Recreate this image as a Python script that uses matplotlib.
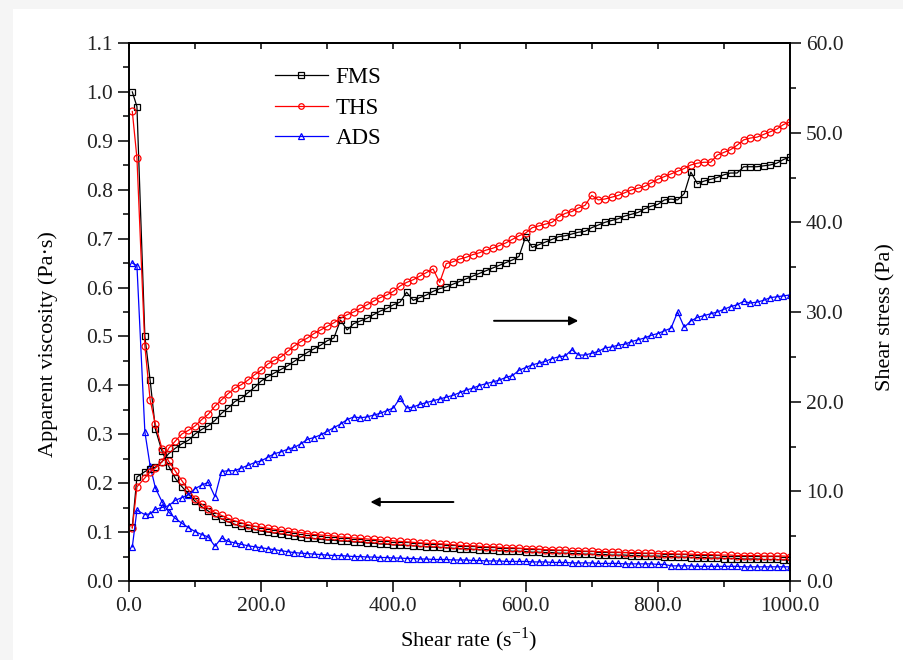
import matplotlib
matplotlib.use("Agg")
import matplotlib.pyplot as plt
from matplotlib.ticker import MultipleLocator, FormatStrFormatter
from matplotlib.patches import Rectangle

plt.rcParams['font.family'] = ['Liberation Serif', 'DejaVu Serif']
plt.rcParams['mathtext.fontset'] = 'custom'
plt.rcParams['mathtext.rm'] = 'Liberation Serif'

# ---------------- data ----------------
shear_rate = [5, 12, 24, 32, 40, 50, 60, 70, 80, 90, 100, 110, 120, 130, 140, 150, 160, 170, 180, 190,
              200, 210, 220, 230, 240, 250, 260, 270, 280, 290, 300, 310, 320, 330, 340, 350, 360, 370, 380, 390,
              400, 410, 420, 430, 440, 450, 460, 470, 480, 490, 500, 510, 520, 530, 540, 550, 560, 570, 580, 590,
              600, 610, 620, 630, 640, 650, 660, 670, 680, 690, 700, 710, 720, 730, 740, 750, 760, 770, 780, 790,
              800, 810, 820, 830, 840, 850, 860, 870, 880, 890, 900, 910, 920, 930, 940, 950, 960, 970, 980, 990,
              1000]

fms_visc = [1.00, 0.97, 0.50, 0.41, 0.31, 0.265, 0.235, 0.21, 0.193, 0.178, 0.163, 0.152, 0.143, 0.133, 0.127,
            0.121, 0.116, 0.112, 0.109, 0.106, 0.102, 0.100, 0.098, 0.096, 0.094, 0.092, 0.090, 0.088, 0.087,
            0.085, 0.084, 0.083, 0.082, 0.081, 0.080, 0.079, 0.078, 0.077, 0.076, 0.075, 0.074, 0.073, 0.073,
            0.072, 0.071, 0.070, 0.069, 0.069, 0.068, 0.067, 0.066, 0.066, 0.065, 0.064, 0.064, 0.063, 0.062,
            0.062, 0.061, 0.061, 0.060, 0.059, 0.059, 0.058, 0.058, 0.057, 0.057, 0.056, 0.056, 0.055, 0.055,
            0.054, 0.054, 0.053, 0.053, 0.053, 0.052, 0.052, 0.051, 0.051, 0.051, 0.050, 0.050, 0.049, 0.049,
            0.048, 0.048, 0.048, 0.047, 0.047, 0.046, 0.046, 0.046, 0.045, 0.045, 0.045, 0.044, 0.044, 0.044,
            0.043, 0.043]

ths_visc = [0.96, 0.865, 0.48, 0.37, 0.32, 0.27, 0.245, 0.225, 0.205, 0.186, 0.168, 0.157, 0.148, 0.140, 0.134,
            0.128, 0.123, 0.119, 0.115, 0.112, 0.110, 0.108, 0.106, 0.104, 0.102, 0.100, 0.099, 0.097, 0.095,
            0.094, 0.093, 0.092, 0.090, 0.089, 0.088, 0.087, 0.086, 0.085, 0.084, 0.083, 0.082, 0.081, 0.080,
            0.079, 0.078, 0.077, 0.077, 0.076, 0.075, 0.074, 0.073, 0.072, 0.072, 0.071, 0.070, 0.070, 0.069,
            0.068, 0.068, 0.067, 0.066, 0.066, 0.065, 0.064, 0.064, 0.063, 0.063, 0.062, 0.062, 0.061, 0.061,
            0.060, 0.060, 0.059, 0.059, 0.058, 0.058, 0.058, 0.057, 0.057, 0.056, 0.056, 0.056, 0.055, 0.055,
            0.055, 0.054, 0.054, 0.054, 0.053, 0.053, 0.053, 0.052, 0.052, 0.052, 0.052, 0.051, 0.051, 0.051,
            0.051, 0.050]

ads_visc = [0.65, 0.645, 0.305, 0.235, 0.19, 0.162, 0.141, 0.128, 0.118, 0.109, 0.101, 0.095, 0.090, 0.071, 0.088,
            0.081, 0.078, 0.075, 0.072, 0.070, 0.068, 0.066, 0.064, 0.062, 0.060, 0.058, 0.057, 0.056, 0.055,
            0.054, 0.053, 0.052, 0.052, 0.051, 0.050, 0.050, 0.049, 0.049, 0.048, 0.048, 0.047, 0.047, 0.046,
            0.046, 0.045, 0.045, 0.044, 0.044, 0.044, 0.043, 0.043, 0.043, 0.042, 0.042, 0.041, 0.041, 0.041,
            0.040, 0.040, 0.040, 0.040, 0.039, 0.039, 0.039, 0.038, 0.038, 0.038, 0.037, 0.037, 0.037, 0.037,
            0.036, 0.036, 0.036, 0.036, 0.035, 0.035, 0.035, 0.035, 0.035, 0.034, 0.034, 0.031, 0.031, 0.031,
            0.031, 0.030, 0.030, 0.030, 0.030, 0.030, 0.030, 0.030, 0.029, 0.029, 0.029, 0.029, 0.029, 0.029,
            0.029, 0.029]

fms_stress = [6.0, 11.6, 12.2, 12.5, 12.7, 13.3, 14.2, 14.8, 15.3, 15.7, 16.4, 16.9, 17.3, 17.9, 18.7, 19.3,
              20.0, 20.4, 21.0, 21.6, 22.3, 22.8, 23.2, 23.6, 24.0, 24.5, 25.0, 25.5, 25.9, 26.3, 26.8, 27.1,
              29.1, 28.0, 28.7, 29.0, 29.3, 29.7, 30.1, 30.4, 30.8, 31.1, 32.2, 31.3, 31.6, 31.9, 32.3, 32.6,
              32.8, 33.1, 33.4, 33.7, 34.0, 34.3, 34.6, 34.9, 35.2, 35.5, 35.8, 36.2, 38.4, 37.2, 37.5, 37.8,
              38.1, 38.4, 38.5, 38.7, 38.9, 39.0, 39.4, 39.7, 40.0, 40.2, 40.4, 40.7, 40.9, 41.1, 41.5, 41.8,
              42.0, 42.5, 42.6, 42.5, 43.2, 45.6, 44.3, 44.6, 44.8, 45.0, 45.3, 45.5, 45.5, 46.2, 46.2, 46.2,
              46.3, 46.4, 46.6, 47.0, 47.3]

ths_stress = [5.9, 10.5, 11.5, 12.2, 12.6, 13.3, 14.8, 15.6, 16.4, 16.8, 17.3, 18.0, 18.6, 19.5, 20.2, 20.9,
              21.5, 21.9, 22.4, 23.0, 23.5, 24.2, 24.6, 25.0, 25.6, 26.2, 26.7, 27.1, 27.6, 28.0, 28.4, 28.8,
              29.3, 29.7, 30.0, 30.4, 30.8, 31.2, 31.6, 31.9, 32.3, 32.9, 33.3, 33.6, 34.0, 34.4, 34.8, 33.3,
              35.4, 35.6, 35.9, 36.1, 36.4, 36.6, 36.9, 37.1, 37.4, 37.7, 38.1, 38.5, 38.8, 39.4, 39.6, 39.8,
              40.0, 40.6, 41.0, 41.2, 41.6, 41.9, 43.0, 42.5, 42.6, 42.8, 43.0, 43.3, 43.6, 43.8, 44.0, 44.4,
              44.8, 45.1, 45.4, 45.7, 46.0, 46.4, 46.6, 46.7, 46.7, 47.5, 47.8, 48.1, 48.6, 49.2, 49.4, 49.5,
              49.8, 50.1, 50.4, 50.9, 51.2]

ads_stress = [3.8, 7.9, 7.4, 7.5, 8.0, 8.2, 8.4, 9.0, 9.3, 9.6, 10.3, 10.7, 11.0, 9.4, 12.2, 12.3, 12.3, 12.6,
              12.9, 13.2, 13.4, 13.8, 14.2, 14.4, 14.7, 14.9, 15.3, 15.8, 16.0, 16.3, 16.7, 17.1, 17.5, 18.0,
              18.3, 18.2, 18.3, 18.5, 18.7, 19.0, 19.3, 20.4, 19.3, 19.4, 19.7, 19.9, 20.1, 20.3, 20.5, 20.7,
              21.0, 21.3, 21.5, 21.8, 22.0, 22.2, 22.4, 22.7, 22.9, 23.5, 23.8, 24.1, 24.3, 24.5, 24.8, 25.0,
              25.1, 25.8, 25.2, 25.2, 25.4, 25.6, 26.0, 26.1, 26.3, 26.4, 26.7, 26.9, 27.1, 27.4, 27.6, 27.9,
              28.2, 30.0, 28.3, 29.0, 29.4, 29.6, 29.8, 30.0, 30.3, 30.6, 30.8, 31.2, 31.0, 31.1, 31.3, 31.6,
              31.7, 31.8, 31.9]

series_names = ["FMS", "THS", "ADS"]
series_colors = ["black", "#ff0000", "#0000ff"]
series_markers = ["s", "o", "^"]

# ---------------- figure ----------------
fig = plt.figure(figsize=(9.04, 6.60), dpi=100, facecolor='#f5f5f5')
bg = Rectangle((13 / 904, 0), 1 - 13 / 904, (660 - 9) / 660,
               transform=fig.transFigure, facecolor='white', edgecolor='none', zorder=-10)
fig.patches.append(bg)

ax = fig.add_axes([129 / 904, 79 / 660, 661 / 904, 538 / 660])
ax.set_facecolor('none')
ax2 = ax.twinx()
ax2.set_facecolor('none')

visc = [fms_visc, ths_visc, ads_visc]
stress = [fms_stress, ths_stress, ads_stress]
handles = []
for name, col, mk, v, s in zip(series_names, series_colors, series_markers, visc, stress):
    h, = ax.plot(shear_rate, v, color=col, marker=mk, markersize=5, markerfacecolor='none',
                 markeredgewidth=0.9, linewidth=0.9, label=name)
    ax2.plot(shear_rate, s, color=col, marker=mk, markersize=5, markerfacecolor='none',
             markeredgewidth=0.9, linewidth=0.9)
    handles.append(h)

ax.set_xlim(0, 1000)
ax.set_ylim(0, 1.1)
ax2.set_ylim(0, 60)

lab_color = '#222222'
ax.xaxis.set_major_locator(MultipleLocator(200))
ax.xaxis.set_minor_locator(MultipleLocator(100))
ax.yaxis.set_major_locator(MultipleLocator(0.1))
ax.yaxis.set_minor_locator(MultipleLocator(0.05))
ax.xaxis.set_major_formatter(FormatStrFormatter('%.1f'))
ax.yaxis.set_major_formatter(FormatStrFormatter('%.1f'))
ax2.yaxis.set_major_locator(MultipleLocator(10))
ax2.yaxis.set_minor_locator(MultipleLocator(5))
ax2.yaxis.set_major_formatter(FormatStrFormatter('%.1f'))

for a in (ax, ax2):
    for sp in a.spines.values():
        sp.set_linewidth(1.2)
    a.tick_params(which='major', direction='out', length=8, width=1.1, labelsize=15.5, labelcolor=lab_color)
    a.tick_params(which='minor', direction='out', length=4.5, width=1.1)

secx = ax.secondary_xaxis('top')
secx.xaxis.set_major_locator(MultipleLocator(100))
secx.tick_params(direction='in', length=4, width=1.1, labeltop=False)
secx.spines['top'].set_linewidth(1.2)

ax.set_xlabel('Shear rate (s$^{\\mathregular{-1}}$)', fontsize=16)
ax.set_ylabel('Apparent viscosity (Pa·s)', fontsize=16)
ax2.set_ylabel('Shear stress (Pa)', fontsize=16)
ax.xaxis.set_label_coords(0.514, -0.083)
ax.yaxis.set_label_coords(-0.107, 0.44)
ax2.yaxis.set_label_coords(1.131, 0.49)

leg = ax.legend(handles=handles, loc='upper left', bbox_to_anchor=(0.2, 0.981), frameon=False,
                fontsize=16.5, handlelength=2.3, handletextpad=0.35, labelspacing=0.42, markerscale=0.8,
                borderaxespad=0.2)

# arrows
ax.annotate('', xy=(684, 0.532), xytext=(548, 0.532),
            arrowprops=dict(arrowstyle='-|>', mutation_scale=13, lw=1.4, color='black'))
ax.annotate('', xy=(361, 0.1615), xytext=(495, 0.1615),
            arrowprops=dict(arrowstyle='-|>', mutation_scale=13, lw=1.4, color='black'))

fig.savefig('out.png', dpi=100, facecolor=fig.get_facecolor())
